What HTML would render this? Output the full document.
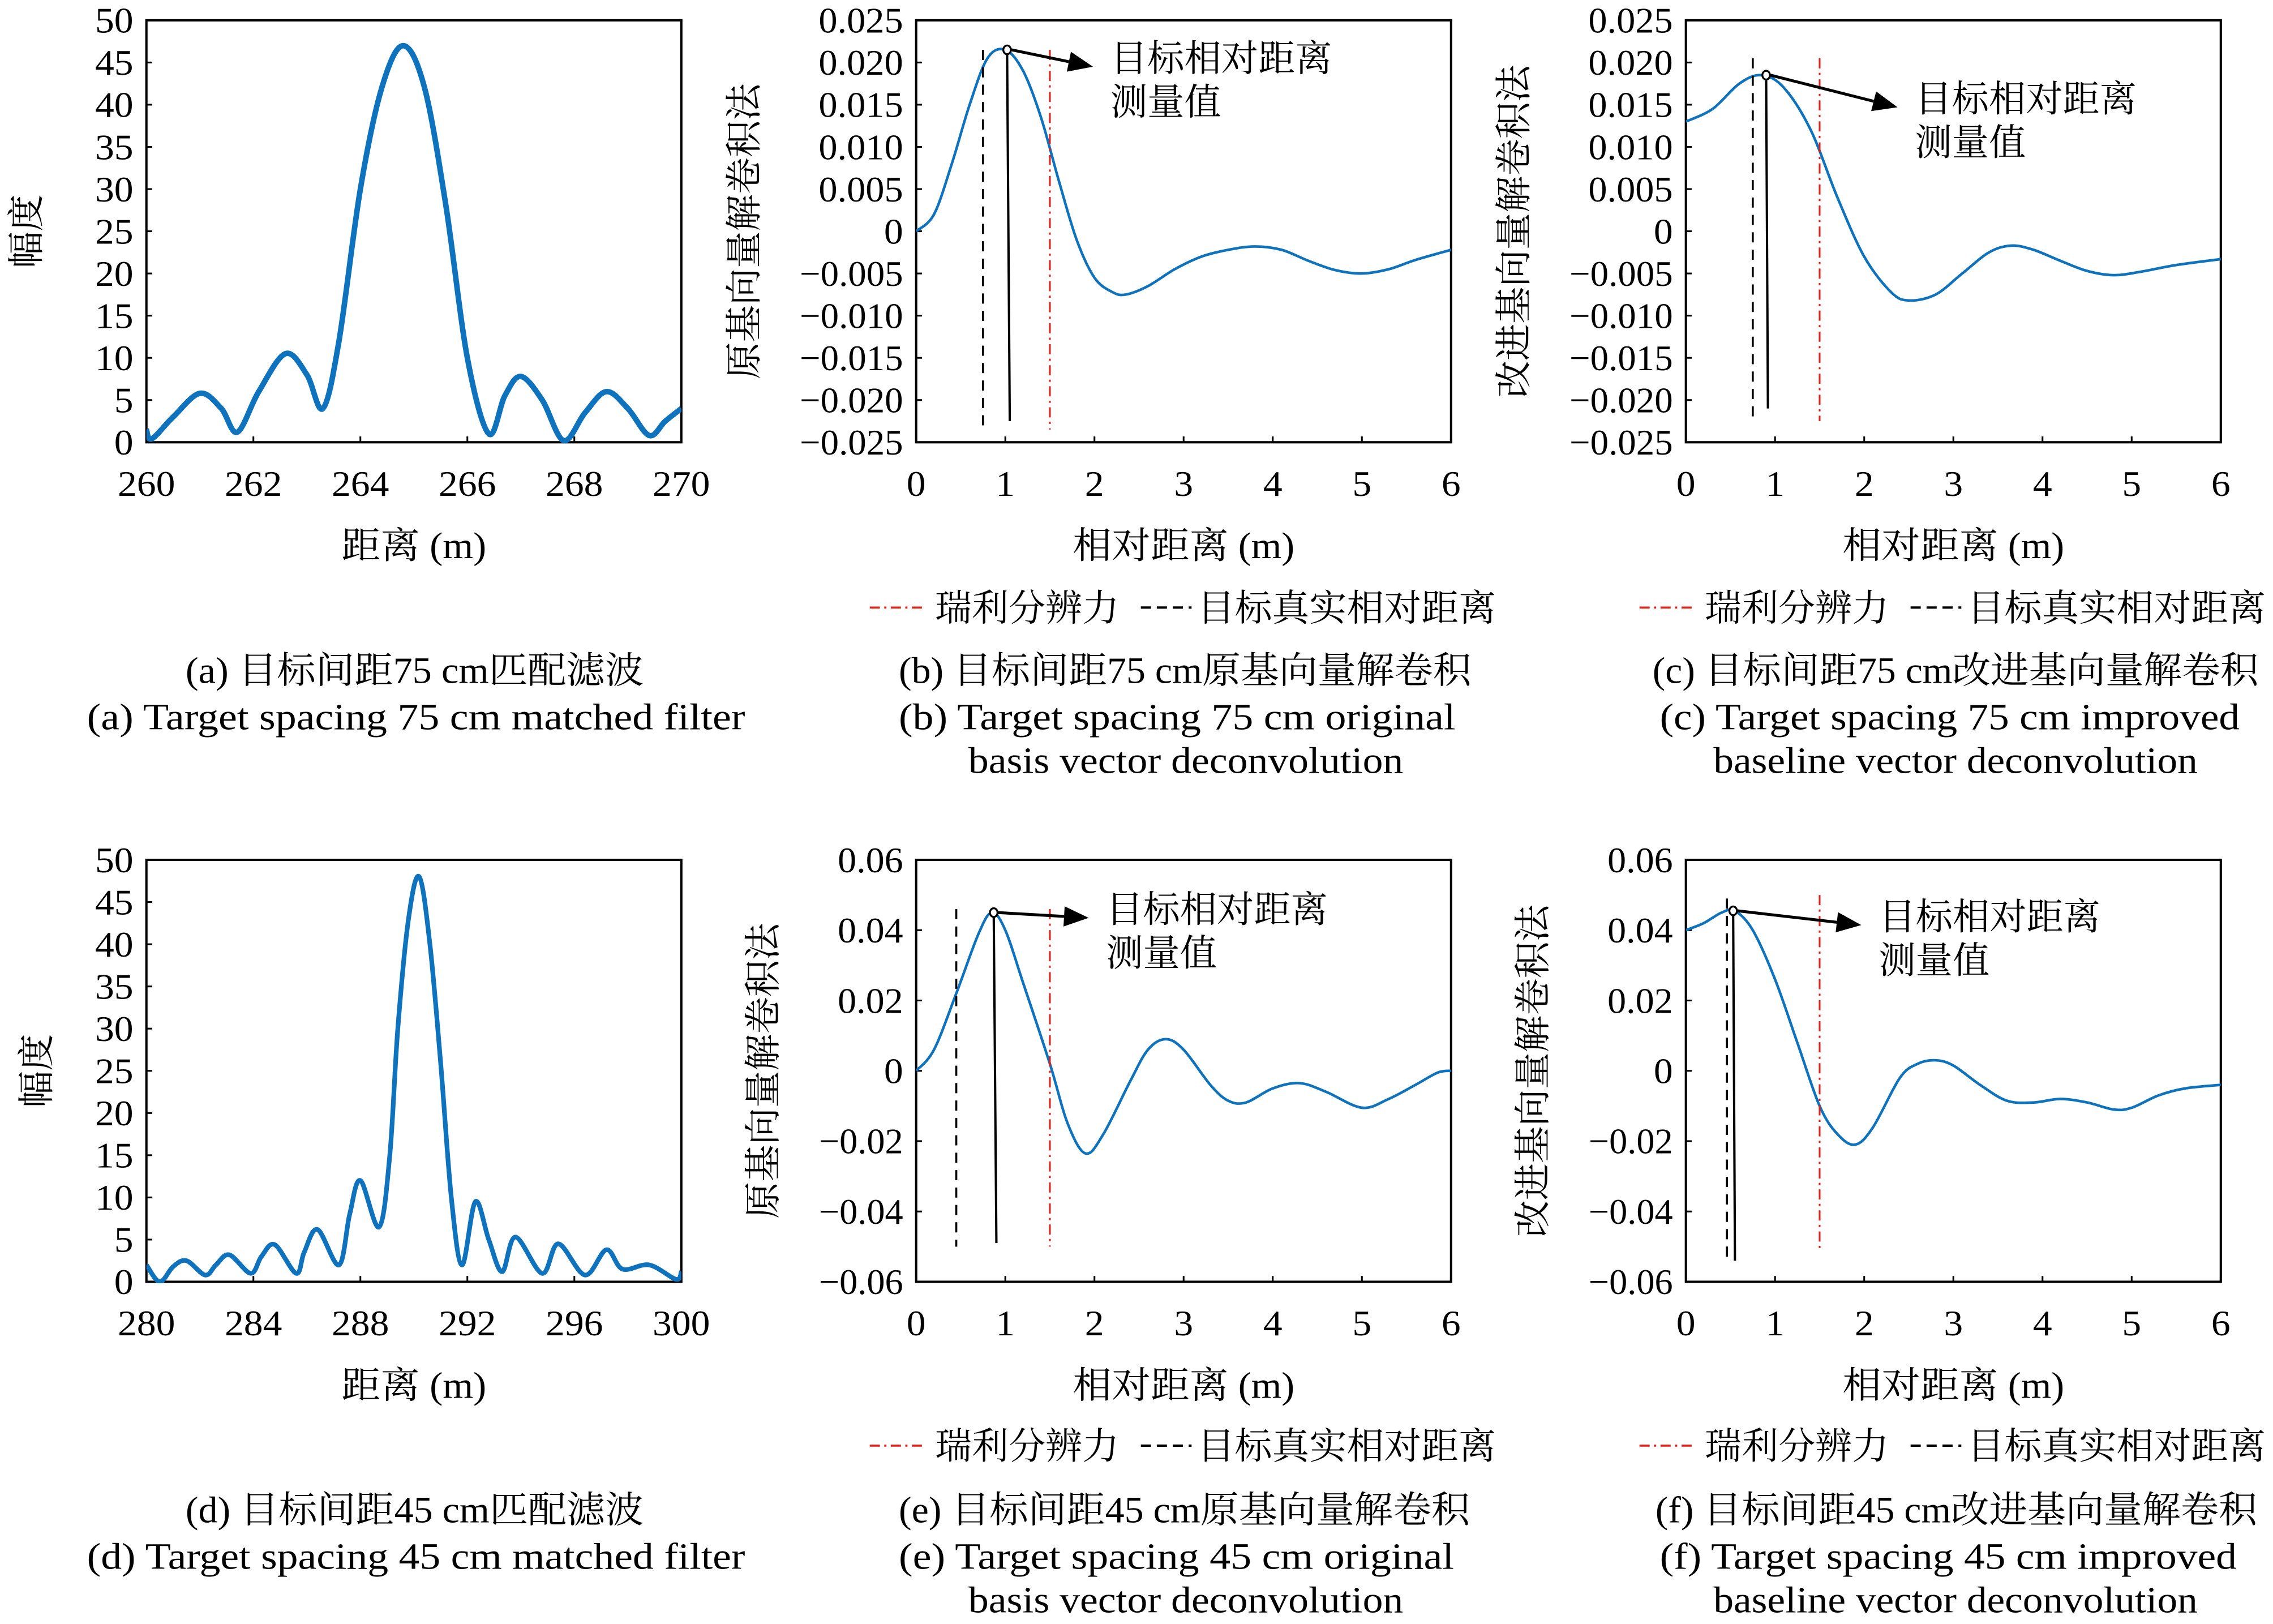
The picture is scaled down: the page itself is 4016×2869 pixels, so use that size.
<!DOCTYPE html>
<html><head><meta charset="utf-8">
<style>
html,body{margin:0;padding:0;background:#fff;}
svg{display:block;}
text{font-family:"Liberation Serif","Noto Serif CJK SC",serif;fill:#000;}
</style></head>
<body>
<svg id="fig" xmlns="http://www.w3.org/2000/svg" width="4016" height="2869" viewBox="0 0 1568 1120" preserveAspectRatio="none"></svg>
<script>
// ---- data ----
const aX = [260,260.1,260.5,261,261.4,261.7,262.1,262.6,263,263.3,263.6,264,264.4,264.8,265.2,265.6,266,266.4,266.7,267,267.4,267.8,268.2,268.6,269,269.4,269.7,270];
const aY = [1.5,0.4,3,5.8,4,1.2,6,10.5,8,4,12,30,42,47,42,28,10,1,5.5,7.8,5,0.2,3.5,6,4,0.8,2.5,4];
const dX = [280,280.5,281,281.5,282.2,282.6,283.1,283.9,284.3,284.8,285.6,285.9,286.4,287.2,287.6,288,288.7,289.1,289.4,289.8,290.2,290.6,291,291.4,291.8,292.3,292.8,293.3,293.8,294.8,295.4,296.4,297.2,297.8,298.8,299.8,300];
const dY = [2,0,1.8,2.5,0.8,2,3.2,1,3,4.4,1,3.5,6.2,2,8,12,6.5,15,30,43,48,40,26,10,2,9.5,5,1.2,5.3,1,4.5,0.8,3.8,1.5,2,0.3,1.2];
const bX = [0,0.2,0.4,0.6,0.8,1.0,1.2,1.4,1.6,1.8,2.0,2.2,2.35,2.6,2.9,3.2,3.5,3.8,4.1,4.4,4.7,5.0,5.3,5.6,6];
const bY = [0,0.002,0.008,0.015,0.0205,0.0215,0.019,0.0135,0.006,-0.001,-0.0055,-0.0072,-0.0075,-0.0065,-0.0045,-0.003,-0.0022,-0.0018,-0.0022,-0.0035,-0.0046,-0.0050,-0.0045,-0.0034,-0.0022];
const cX = [0,0.3,0.6,0.85,1.1,1.4,1.7,2.0,2.3,2.5,2.8,3.1,3.4,3.65,3.9,4.2,4.5,4.8,5.1,5.5,6];
const cY = [0.013,0.0145,0.0175,0.0185,0.017,0.012,0.004,-0.003,-0.0072,-0.0082,-0.0075,-0.005,-0.0025,-0.0017,-0.0022,-0.0035,-0.0047,-0.0052,-0.0048,-0.004,-0.0033];
const eX = [0,0.2,0.45,0.7,0.85,1.0,1.2,1.5,1.7,1.9,2.1,2.4,2.6,2.8,3.0,3.3,3.5,3.7,4.0,4.3,4.6,5.0,5.3,5.6,5.85,6];
const eY = [0,0.006,0.022,0.039,0.045,0.04,0.025,0.002,-0.015,-0.0235,-0.018,-0.003,0.006,0.009,0.006,-0.004,-0.0085,-0.009,-0.005,-0.0035,-0.006,-0.0105,-0.008,-0.004,-0.0005,0];
const fX = [0,0.2,0.4,0.55,0.75,1.0,1.25,1.5,1.7,1.9,2.1,2.4,2.6,2.8,3.0,3.3,3.6,3.9,4.2,4.5,4.8,5.0,5.3,5.6,6];
const fY = [0.04,0.042,0.045,0.0455,0.04,0.026,0.008,-0.01,-0.018,-0.021,-0.016,-0.002,0.002,0.003,0.0015,-0.004,-0.0085,-0.009,-0.008,-0.009,-0.011,-0.0105,-0.007,-0.005,-0.004];
const aXTicks = [260,262,264,266,268,270];
const dXTicks = [280,284,288,292,296,300];
const ampTicks = [0,5,10,15,20,25,30,35,40,45,50];
const relTicks = [0,1,2,3,4,5,6];
const y75Ticks = [-0.025,-0.02,-0.015,-0.01,-0.005,0,0.005,0.01,0.015,0.02,0.025];
const y75Labels = ["−0.025","−0.020","−0.015","−0.010","−0.005","0","0.005","0.010","0.015","0.020","0.025"];
const y45Ticks = [-0.06,-0.04,-0.02,0,0.02,0.04,0.06];
const y45Labels = ["−0.06","−0.04","−0.02","0","0.02","0.04","0.06"];
// markers: [trueX, trueTop, trueBot, measX, measY, measBotX, measBot, rayTop, rayBot]
const bMark = [0.75,0.0215,-0.0235,1.02,0.0215,1.05,-0.0225,0.0215,-0.0235];
const cMark = [0.75,0.0205,-0.022,0.9,0.0185,0.92,-0.021,0.0205,-0.0225];
const eMark = [0.45,0.046,-0.05,0.87,0.045,0.9,-0.049,0.046,-0.05];
const fMark = [0.46,0.049,-0.054,0.53,0.0455,0.55,-0.054,0.05,-0.0505];
const rayleigh = 1.5;

const NS = "http://www.w3.org/2000/svg";
const svg = document.getElementById('fig');
function el(tag, attrs, parent){
  const e = document.createElementNS(NS, tag);
  for (const k in attrs) e.setAttribute(k, attrs[k]);
  (parent||svg).appendChild(e);
  return e;
}
function txt(s, x, y, size, anchor, parent, len){
  const t = el('text', {x:x, y:y, 'font-size':size, 'text-anchor':anchor||'start'}, parent);
  if (len){ t.setAttribute('textLength', len); t.setAttribute('lengthAdjust','spacingAndGlyphs'); }
  t.textContent = s;
  return t;
}
function numLen(s){
  let w=0;
  for (const ch of s){ w += ch==='.' ? 5.5 : (ch==='−' ? 13 : 13.2); }
  return w;
}
function smooth(pts){
  let d = 'M' + pts[0][0].toFixed(2) + ',' + pts[0][1].toFixed(2);
  for (let i=0;i<pts.length-1;i++){
    const p0 = pts[Math.max(i-1,0)], p1 = pts[i], p2 = pts[i+1], p3 = pts[Math.min(i+2,pts.length-1)];
    const c1x = p1[0]+(p2[0]-p0[0])/6, c1y = p1[1]+(p2[1]-p0[1])/6;
    const c2x = p2[0]-(p3[0]-p1[0])/6, c2y = p2[1]-(p3[1]-p1[1])/6;
    d += 'C'+c1x.toFixed(2)+','+c1y.toFixed(2)+' '+c2x.toFixed(2)+','+c2y.toFixed(2)+' '+p2[0].toFixed(2)+','+p2[1].toFixed(2);
  }
  return d;
}

function panel(o){
  const g = el('g', {});
  
  
  const L=o.l, R=o.l+369, T=o.t, B=o.t+291;
  const sx = v => L + (v-o.xmin)/(o.xmax-o.xmin)*(R-L);
  const sy = v => B - (v-o.ymin)/(o.ymax-o.ymin)*(B-T);
  const frame = el('rect', {x:L, y:T, width:R-L, height:B-T, fill:'none', stroke:'#000', 'stroke-width':1.6}, g);
  
  
  o.xt.forEach(v=>{
    el('line',{x1:sx(v),x2:sx(v),y1:B,y2:B-4,stroke:'#000','stroke-width':1.2},g);
    const t = txt(String(v), sx(v), B+37, 25, 'middle', g, numLen(String(v)));
    
    
  });
  o.yt.forEach((v,i)=>{
    el('line',{x1:L,x2:L+4,y1:sy(v),y2:sy(v),stroke:'#000','stroke-width':1.2},g);
    const t = txt(o.yl[i], L-9, sy(v)+8.5, 25, 'end', g, numLen(o.yl[i]));
    
    
  });
  const xt = txt(o.xtitle, (L+R)/2, B+80, 25.5, 'middle', g, o.xtitleLen);
  
  
  const yt = txt(o.ytitle, 0, 0, 25.5, 'middle', g);
  yt.setAttribute('transform', 'translate('+o.ytx+','+((T+B)/2)+') rotate(-90)');
  
  
  const cid = 'clip-'+o.name;
  const cp = el('clipPath',{id:cid},g);
  el('rect',{x:L,y:T-1,width:R-L,height:B-T+2},cp);
  const pts = o.xs.map((x,i)=>[sx(x), sy(o.ys[i])]);
  const line = el('path',{d:smooth(pts), fill:'none', stroke:'#0e72bd', 'stroke-width':o.sw, 'stroke-linejoin':'round', 'clip-path':'url(#'+cid+')'}, g);
  
  
  if (o.mark){
    const m = o.mark;
    const td = el('line',{x1:sx(m[0]),x2:sx(m[0]),y1:sy(m[1]),y2:sy(m[2]),stroke:'#000','stroke-width':1.4,'stroke-dasharray':'7,5'},g);
    
    
    const rl = el('line',{x1:sx(rayleigh),x2:sx(rayleigh),y1:sy(m[7]),y2:sy(m[8]),stroke:'#e0201b','stroke-width':1.2,'stroke-dasharray':'7,3,1.5,3'},g);
    
    
    const ml = el('line',{x1:sx(m[3]),x2:sx(m[5]),y1:sy(m[4]),y2:sy(m[6]),stroke:'#000','stroke-width':1.6},g);
    
    
    const mc = el('ellipse',{cx:sx(m[3]),cy:sy(m[4]),rx:2.6,ry:3,fill:'#fff',stroke:'#000','stroke-width':1.3},g);
    
    
    const x0=sx(m[3])+3, y0=sy(m[4]), x1=o.arrow[0], y1=o.arrow[1];
    const ang = Math.atan2(y1-y0,x1-x0), hl=17, hw=7;
    const bx = x1-hl*Math.cos(ang), by = y1-hl*Math.sin(ang);
    el('line',{x1:x0,y1:y0,x2:bx,y2:by,stroke:'#000','stroke-width':2},g);
    const ah = el('polygon',{points:[x1,y1,bx+hw*Math.sin(ang),by-hw*Math.cos(ang),bx-hw*Math.sin(ang),by+hw*Math.cos(ang)].join(','),fill:'#000'},g);
    
    
    const a1 = txt('目标相对距离', o.arrow[0]+12, o.arrow[1]+3, 25.5, 'start', g);
    
    
    const a2 = txt('测量值', o.arrow[0]+12, o.arrow[1]+33, 25.5, 'start', g);
    
    
    const lg = el('g',{},g);
    
    
    const lx = L-32, ly = 428 + (T>300 ? 578 : 0);
    el('line',{x1:lx,x2:lx+36,y1:ly-9,y2:ly-9,stroke:'#e0201b','stroke-width':1.4,'stroke-dasharray':'7,3,1.5,3'},lg);
    txt('瑞利分辨力', lx+45, ly, 25.5, 'start', lg, 127);
    el('line',{x1:lx+187,x2:lx+222,y1:ly-9,y2:ly-9,stroke:'#000','stroke-width':1.6,'stroke-dasharray':'7,4'},lg);
    txt('目标真实相对距离', lx+226, ly, 25.5, 'start', lg, 206);
  }
  const cy = T>300 ? 1041 : 462;
  const c1 = txt(o.cap[0], o.capx[0], cy+9, 25.5, 'start', g, o.capx[1]-o.capx[0]);
  
  
  const c2 = txt(o.cap[1], o.capx[2], cy+41, 25.5, 'start', g, o.capx[3]-o.capx[2]);
  
  
  if (o.cap[2]){
    const c3 = txt(o.cap[2], o.capx[4], cy+71, 25.5, 'start', g, o.capx[5]-o.capx[4]);
    
    
  }
}

panel({name:'panel-a',l:101,t:14,xmin:260,xmax:270,ymin:0,ymax:50,xt:aXTicks,yt:ampTicks,yl:ampTicks.map(String),xs:aX,ys:aY,sw:3.8,xtitle:'距离 (m)',xtitleLen:100,ytitle:'幅度',ytx:27,cap:['(a) 目标间距75 cm匹配滤波','(a) Target spacing 75 cm matched filter'],capx:[128,444,60,514]});
panel({name:'panel-b',l:632,t:14,xmin:0,xmax:6,ymin:-0.025,ymax:0.025,xt:relTicks,yt:y75Ticks,yl:y75Labels,xs:bX,ys:bY,sw:1.8,xtitle:'相对距离 (m)',xtitleLen:153,ytitle:'原基向量解卷积法',ytx:522,mark:bMark,arrow:[754,46],cap:['(b) 目标间距75 cm原基向量解卷积','(b) Target spacing 75 cm original','basis vector deconvolution'],capx:[620,1015,620,1004,668,968]});
panel({name:'panel-c',l:1163,t:14,xmin:0,xmax:6,ymin:-0.025,ymax:0.025,xt:relTicks,yt:y75Ticks,yl:y75Labels,xs:cX,ys:cY,sw:1.8,xtitle:'相对距离 (m)',xtitleLen:153,ytitle:'改进基向量解卷积法',ytx:1053,mark:cMark,arrow:[1309,74],cap:['(c) 目标间距75 cm改进基向量解卷积','(c) Target spacing 75 cm improved','baseline vector deconvolution'],capx:[1140,1558,1145,1545,1182,1516]});
panel({name:'panel-d',l:101,t:593,xmin:280,xmax:300,ymin:0,ymax:50,xt:dXTicks,yt:ampTicks,yl:ampTicks.map(String),xs:dX,ys:dY,sw:3.2,xtitle:'距离 (m)',xtitleLen:100,ytitle:'幅度',ytx:34,cap:['(d) 目标间距45 cm匹配滤波','(d) Target spacing 45 cm matched filter'],capx:[128,444,60,514]});
panel({name:'panel-e',l:632,t:593,xmin:0,xmax:6,ymin:-0.06,ymax:0.06,xt:relTicks,yt:y45Ticks,yl:y45Labels,xs:eX,ys:eY,sw:1.8,xtitle:'相对距离 (m)',xtitleLen:153,ytitle:'原基向量解卷积法',ytx:535,mark:eMark,arrow:[751,633],cap:['(e) 目标间距45 cm原基向量解卷积','(e) Target spacing 45 cm original','basis vector deconvolution'],capx:[620,1014,620,1003,668,968]});
panel({name:'panel-f',l:1163,t:593,xmin:0,xmax:6,ymin:-0.06,ymax:0.06,xt:relTicks,yt:y45Ticks,yl:y45Labels,xs:fX,ys:fY,sw:1.8,xtitle:'相对距离 (m)',xtitleLen:153,ytitle:'改进基向量解卷积法',ytx:1066,mark:fMark,arrow:[1284,638],cap:['(f) 目标间距45 cm改进基向量解卷积','(f) Target spacing 45 cm improved','baseline vector deconvolution'],capx:[1142,1557,1145,1543,1182,1516]});
</script>
</body></html>
